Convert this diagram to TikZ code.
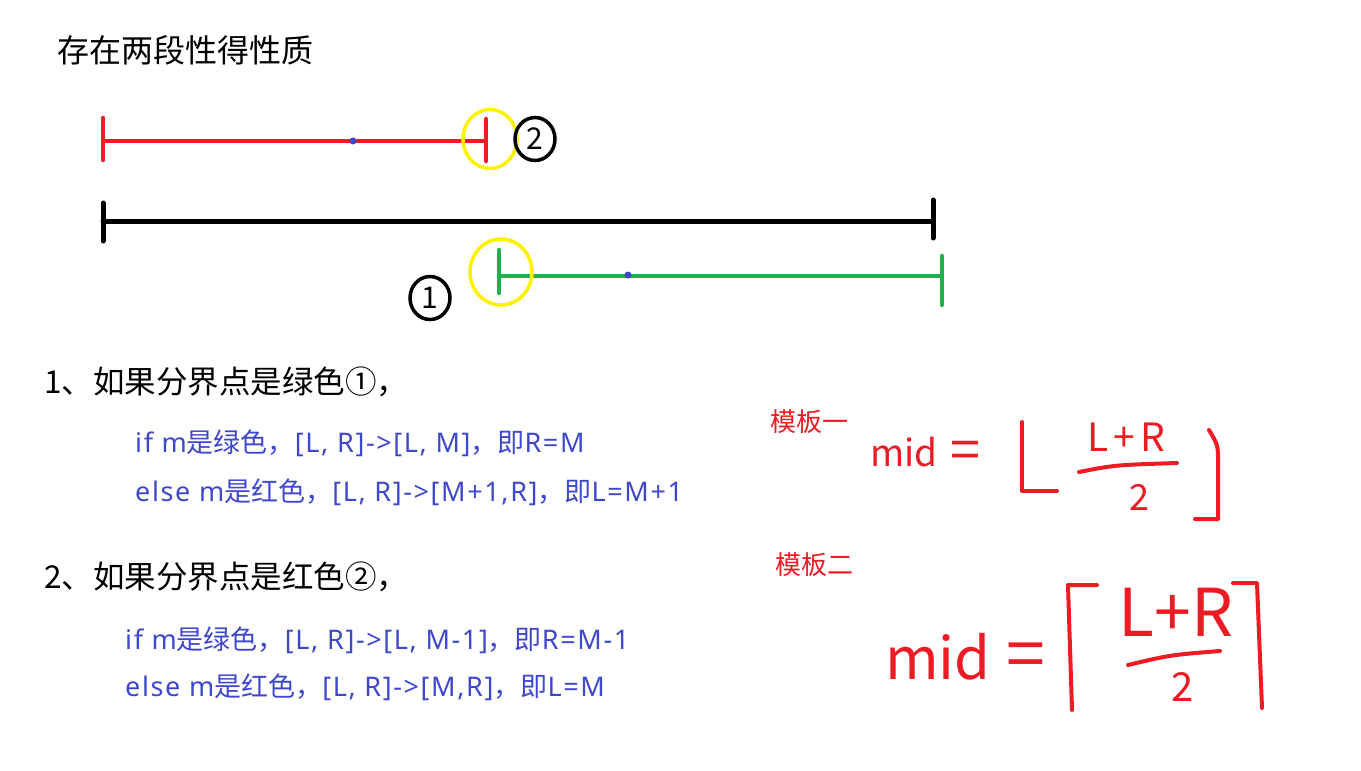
\documentclass[tikz,border=0pt]{standalone}
\usepackage{fontspec}
\setmainfont{Noto Sans CJK SC}
\newfontfamily\latf[LetterSpace=6]{Noto Sans}
\usetikzlibrary{shapes.geometric}
\definecolor{pred}{HTML}{ED1C24}
\definecolor{pgreen}{HTML}{22B14C}
\definecolor{pyellow}{HTML}{FFF200}
\definecolor{pblue}{HTML}{3F48CC}
\newcommand{\lt}[1]{{\latf #1}}
\begin{document}
\begin{tikzpicture}[x=1pt,y=-1pt,
  seg/.style={line width=4.5pt, line cap=round},
  ring/.style={pyellow, line width=3.5pt},
  numring/.style={ellipse, draw=black, line width=3.5pt, inner sep=0pt, minimum width=40pt, minimum height=43pt, font=\fontsize{30pt}{30pt}\selectfont},
  dotm/.style={circle, fill=pblue, inner sep=0pt, minimum size=7pt},
  hdr/.style={anchor=west, inner sep=0pt, font=\fontsize{31.5pt}{36pt}\selectfont},
  blu/.style={anchor=west, inner sep=0pt, text=pblue, font=\fontsize{27pt}{30pt}\selectfont},
  tmpl/.style={anchor=west, inner sep=0pt, text=pred, font=\fontsize{26pt}{30pt}\selectfont},
  hw/.style={inner sep=0pt, text=pred},
  hwline/.style={pred, line width=4pt, line cap=round, line join=round}
]
\useasboundingbox (0,0) rectangle (1361,771);
\fill[white] (0,0) rectangle (1361,771);

% title
\node[hdr, font=\fontsize{32pt}{36pt}\selectfont] (title) at (57,50) {存在两段性得性质};

% red segment
\draw[seg, pred] (103,141) -- (486,141);
\draw[seg, pred] (103,118) -- (103,160);
\draw[seg, pred] (486,119) -- (486,161);
\node[dotm] (rdot) at (353,141) {};
\draw[ring] (490,139) ellipse [x radius=27pt, y radius=29.5pt];
\node[numring] (c2) at (535,139) {2};

% black segment
\draw[seg, black, line width=5pt] (103,221) -- (933,221);
\draw[seg, black, line width=5pt] (103,203) -- (103,241);
\draw[seg, black, line width=5pt] (933,200) -- (933,238);

% green segment
\draw[seg, pgreen] (499,276) -- (942,276);
\draw[seg, pgreen] (499,250) -- (499,293);
\draw[seg, pgreen] (942,256) -- (942,305);
\node[dotm] (gdot) at (628,275) {};
\draw[ring] (501,272) ellipse [x radius=31pt, y radius=33pt];
\node[numring] (c1) at (430,298) {1};

% text block 1
\node[hdr] (h1) at (44,382) {1、如果分界点是绿色①，};
\node[blu] (b1) at (135,443) {\lt{if m}是绿色，\lt{[L, R]->[L, M]}，即\lt{R=M}};
\node[blu] (b2) at (135,492) {\lt{else m}是红色，\lt{[L, R]->[M+1,R]}，即\lt{L=M+1}};

% text block 2
\node[hdr] (h2) at (44,577) {2、如果分界点是红色②，};
\node[blu] (b3) at (125,640) {\lt{if m}是绿色，\lt{[L, R]->[L, M-1]}，即\lt{R=M-1}};
\node[blu] (b4) at (125,687) {\lt{else m}是红色，\lt{[L, R]->[M,R]}，即\lt{L=M}};

% templates
\node[tmpl] (t1) at (770,422) {模板一};
\node[tmpl] (t2) at (775,565) {模板二};

% formula 1
\node[hw, anchor=base west, font=\fontsize{37pt}{37pt}\selectfont] (mid1) at (870,466) {mid};
\node[hw, font=\fontsize{54pt}{54pt}\selectfont] (eq1) at (965,455) {=};
\draw[hwline] (1022,422) -- (1022,491) -- (1057,491);
\node[hw, font=\fontsize{39pt}{39pt}\selectfont] (num1) at (1126,437) {L\hspace{5pt}+\hspace{5pt}R};
\draw[hwline] (1079,472) .. controls (1115,465) .. (1177,463);
\node[hw, font=\fontsize{36pt}{36pt}\selectfont] (den1) at (1139,497) {2};
\draw[hwline] (1209,430) .. controls (1218,445) .. (1218,462) -- (1218,519) -- (1195,519);

% formula 2
\node[hw, anchor=base west, font=\fontsize{58pt}{58pt}\selectfont] (mid2) at (885,679) {mid};
\node[hw, font=\fontsize{70pt}{70pt}\selectfont] (eq2) at (1026,661) {=};
\draw[hwline] (1097,585) -- (1068,585) -- (1072,710);
\node[hw, font=\fontsize{66pt}{66pt}\selectfont] (num2) at (1176,612) {L+R};
\draw[hwline] (1128,665) .. controls (1170,655) .. (1220,651);
\node[hw, font=\fontsize{40pt}{40pt}\selectfont] (den2) at (1183,687) {2};
\draw[hwline] (1233,583) -- (1257,583) -- (1262,708);
\end{tikzpicture}
\end{document}
